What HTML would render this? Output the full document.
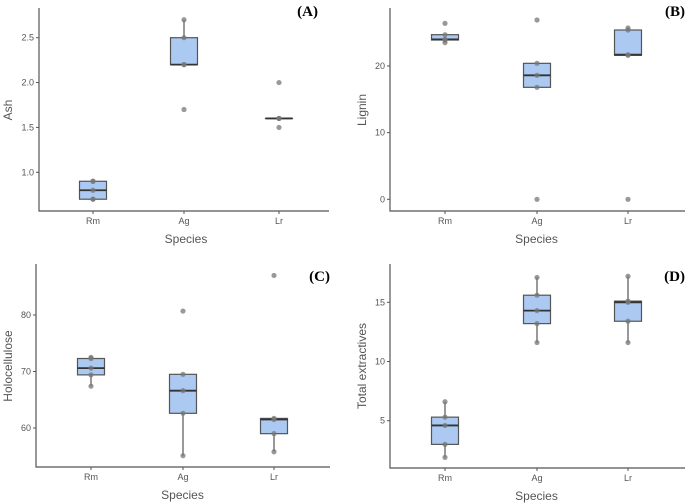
<!DOCTYPE html>
<html><head><meta charset="utf-8"><style>
body{margin:0;background:#fff}
svg{display:block;font-family:"Liberation Sans",sans-serif}
</style></head><body>
<svg id="fig" width="685" height="504" viewBox="0 0 685 504"></svg>
<script>
const categories = ["Rm","Ag","Lr"];
const ashRm=[0.7,0.7,0.8,0.9,0.9], ashAg=[1.7,2.2,2.2,2.5,2.7], ashLr=[1.5,1.6,1.6,1.6,2.0];
const ligRm=[23.5,23.9,24.0,24.7,26.4], ligAg=[0,16.8,18.6,20.4,26.9], ligLr=[0,21.6,21.7,25.4,25.7];
const holRm=[67.4,69.4,70.6,72.3,72.5], holAg=[55.1,62.6,66.6,69.5,80.7], holLr=[55.8,59.0,61.5,61.7,87.0];
const extRm=[1.9,3.0,4.6,5.3,6.6], extAg=[11.6,13.2,14.3,15.6,17.1], extLr=[11.6,13.4,15.0,15.1,17.2];
const ticksA=["1.0","1.5","2.0","2.5"], ticksB=["0","10","20"], ticksC=["60","70","80"], ticksD=["5","10","15"];

const NS="http://www.w3.org/2000/svg", svg=document.getElementById('fig');
function mk(t,a,p){const e=document.createElementNS(NS,t);for(const k in a)e.setAttribute(k,a[k]);(p||svg).appendChild(e);return e;}
function q(s,p){const h=(s.length-1)*p,l=Math.floor(h);return s[l]+(h-l)*((s[Math.min(l+1,s.length-1)])-s[l]);}

const panels=[
 {id:"a",label:"(A)",title:"Ash",data:[ashRm,ashAg,ashLr],ticks:ticksA,x0:39,x1:329,yb:211,yt:8,xs:[93,184,279],v0:1.0,p0:172.3,v1:2.5,p1:37.7,lx:318,ly:16,tx:8,ty:110,bw:13.5},
 {id:"b",label:"(B)",title:"Lignin",data:[ligRm,ligAg,ligLr],ticks:ticksB,x0:390,x1:685,yb:211,yt:8,xs:[445,537,628],v0:0,p0:199.3,v1:20,p1:66,lx:685,ly:16,tx:362,ty:110,bw:13.5},
 {id:"c",label:"(C)",title:"Holocellulose",data:[holRm,holAg,holLr],ticks:ticksC,x0:36,x1:330,yb:467,yt:264,xs:[91,183,274],v0:60,p0:428,v1:80,p1:315,lx:330,ly:281,tx:8,ty:366,bw:13.5},
 {id:"d",label:"(D)",title:"Total extractives",data:[extRm,extAg,extLr],ticks:ticksD,x0:390,x1:685,yb:468,yt:264,xs:[445,537,628],v0:5,p0:420.7,v1:15,p1:302.3,lx:685,ly:281,tx:362,ty:366,bw:13.5}
];
panels.forEach(P=>{
 const g=mk('g',{});
 
 
 const y=v=>P.p0+(v-P.v0)*(P.p1-P.p0)/(P.v1-P.v0);
 const ax=mk('path',{d:`M${P.x0},${P.yt}V${P.yb}H${P.x1}`,fill:'none',stroke:'#555','stroke-width':1.2},g);
 
 
 P.ticks.forEach(t=>{const yy=y(+t);
  mk('line',{x1:P.x0-3,x2:P.x0,y1:yy,y2:yy,stroke:'#555'},g);
  const tl=mk('text',{x:P.x0-5,y:yy+3,'text-anchor':'end','font-size':9,fill:'#555'},g);tl.textContent=t;
  
  });
 categories.forEach((c,i)=>{const xx=P.xs[i];
  mk('line',{x1:xx,x2:xx,y1:P.yb,y2:P.yb+3,stroke:'#555'},g);
  const tl=mk('text',{x:xx,y:P.yb+13,'text-anchor':'middle','font-size':9,fill:'#555'},g);tl.textContent=c;
  
  
  const s=[...P.data[i]].sort((a,b)=>a-b);
  const q1=q(s,.25),md=q(s,.5),q3=q(s,.75),iqr=q3-q1;
  const inl=s.filter(v=>v>=q1-1.5*iqr&&v<=q3+1.5*iqr);
  const lo=Math.min(...inl),hi=Math.max(...inl);
  const bx=mk('g',{},g);
  
  
  mk('line',{x1:xx,x2:xx,y1:y(hi),y2:y(q3),stroke:'#555','stroke-width':1.2},bx);
  mk('line',{x1:xx,x2:xx,y1:y(q1),y2:y(lo),stroke:'#555','stroke-width':1.2},bx);
  mk('rect',{x:xx-P.bw,y:y(q3),width:2*P.bw,height:Math.max(0.01,y(q1)-y(q3)),fill:'#abc9f1',stroke:'#555','stroke-width':1.2},bx);
  mk('line',{x1:xx-P.bw,x2:xx+P.bw,y1:y(md),y2:y(md),stroke:'#333','stroke-width':1.8},bx);
  s.forEach(v=>{const pt=mk('circle',{cx:xx,cy:y(v),r:2.6,fill:'#777','fill-opacity':0.75},bx);
   
   });
 });
 const xt=mk('text',{x:(P.xs[0]+P.xs[2])/2,y:P.yb+32,'text-anchor':'middle','font-size':12,fill:'#555'},g);xt.textContent="Species";
 
 
 const yt=mk('text',{x:0,y:0,'text-anchor':'middle','font-size':12,fill:'#555',transform:`translate(${P.tx+4},${P.ty}) rotate(-90)`},g);yt.textContent=P.title;
 
 
 const pl=mk('text',{x:P.lx,y:P.ly,'text-anchor':'end','font-size':15,'font-weight':'bold','font-family':'"Liberation Serif",serif',fill:'#000'},g);pl.textContent=P.label;
 
 
});
</script>
</body></html>
